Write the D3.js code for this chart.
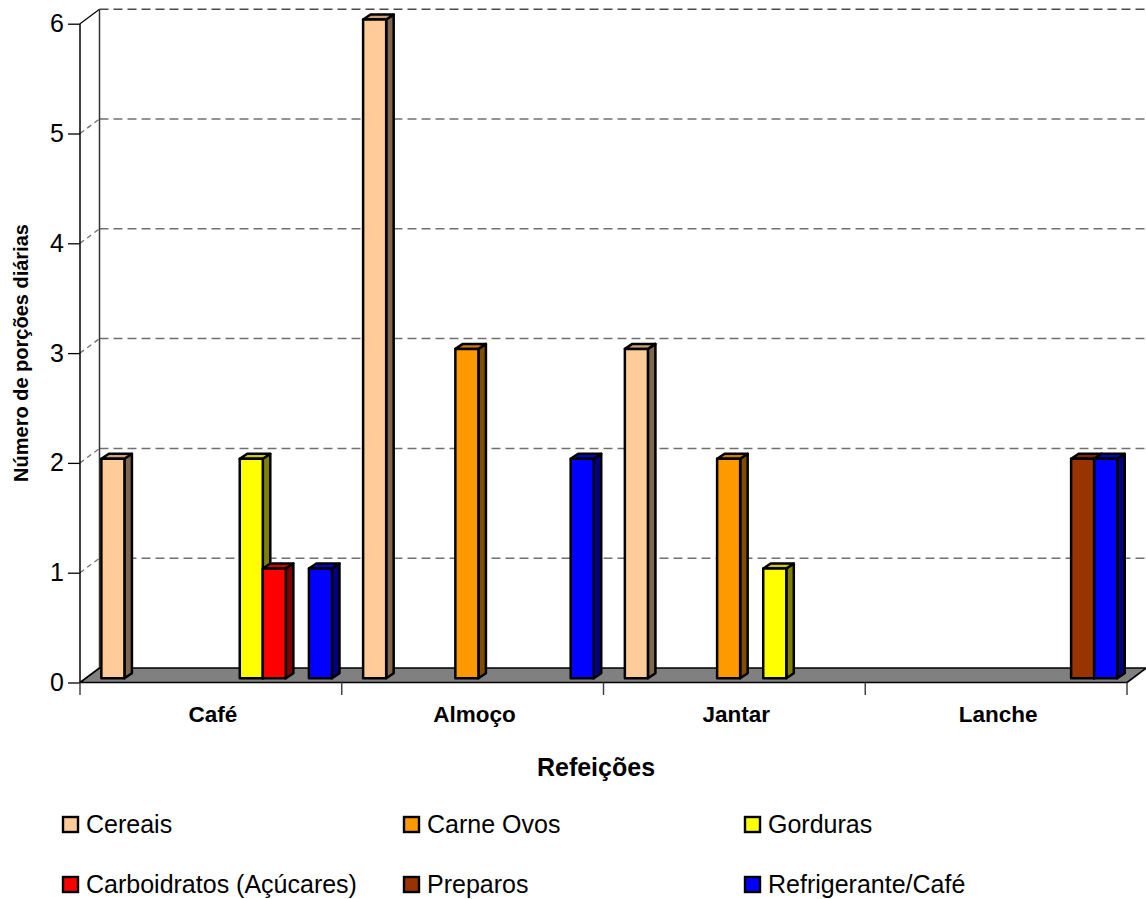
<!DOCTYPE html>
<html>
<head>
<meta charset="utf-8">
<script src="https://cdn.jsdelivr.net/npm/d3@7"></script>
<style>
  html, body { margin: 0; padding: 0; background: #fff; }
  svg { display: block; font-family: "Liberation Sans", Arial, sans-serif; }
</style>
</head>
<body>
<svg id="chart" width="1146" height="899"></svg>
<script>
// Meals on the category axis
const categories = ["Café", "Almoço", "Jantar", "Lanche"];

// Series in plotting order; the empty-named series have no values and no legend entry,
// but still hold their slot inside each meal group.
const seriesNames = ["Cereais", "", "", "", "Carne Ovos", "", "Gorduras",
                     "Carboidratos (Açúcares)", "Preparos", "Refrigerante/Café"];

// Portions per meal (null = no bar)
const cereais       = [2, 6, 3, null];
const vazio1        = [null, null, null, null];
const vazio2        = [null, null, null, null];
const vazio3        = [null, null, null, null];
const carneOvos     = [null, 3, 2, null];
const vazio4        = [null, null, null, null];
const gorduras      = [2, null, 1, null];
const carboidratos  = [1, null, null, null];
const preparos      = [null, null, null, 2];
const refrigerante  = [1, 2, null, 2];

const seriesValues = [cereais, vazio1, vazio2, vazio3, carneOvos, vazio4,
                      gorduras, carboidratos, preparos, refrigerante];

const seriesColors = ["#FFCC99", "#999999", "#999999", "#999999", "#FF9900", "#999999",
                      "#FFFF00", "#FF0000", "#993300", "#0000FF"];

const yTicks = [0, 1, 2, 3, 4, 5, 6];

// ---- layout ----
const svg = d3.select("#chart");
const W = 1146, H = 899;

const y = d3.scaleLinear().domain([0, 6]).range([682.5, 23.7]);
const x = d3.scaleBand().domain(categories).range([80, 1127]);
const slot = d3.scaleBand()
  .domain(d3.range(seriesNames.length))
  .range([0, x.bandwidth()])
  .paddingInner(0)
  .paddingOuter(0.675);

// oblique projection of the depth axis
const WALL_DX = 19.5, WALL_DY = -14.5;     // front edge -> back wall
const BAR_DX0 = 5.8,  BAR_DY0 = -4.2;      // front edge -> bar front faces
const BAR_DX  = 7.5,  BAR_DY  = -5;        // bar thickness in depth

function shade(hex, k) {
  const c = d3.rgb(hex);
  return d3.rgb(c.r * k, c.g * k, c.b * k).formatHex();
}

const gridColor = "#707070";
const xLeft = x.range()[0], xRight = x.range()[1];
const yBase = y(0);

// ---- walls & gridlines ----
const walls = svg.append("g");

// gridlines on the back wall and the left side wall
yTicks.filter(v => v > 0).forEach(v => {
  const yf = y(v), yb = y(v) + WALL_DY;
  walls.append("line")
    .attr("x1", xLeft + WALL_DX).attr("x2", W + 5)
    .attr("y1", yb).attr("y2", yb)
    .attr("stroke", v === 6 ? "#4a4a4a" : gridColor)
    .attr("stroke-width", 1.5)
    .attr("stroke-dasharray", "9,5");
  walls.append("line")
    .attr("x1", xLeft).attr("y1", yf)
    .attr("x2", xLeft + WALL_DX).attr("y2", yb)
    .attr("stroke", v === 6 ? "#000" : gridColor)
    .attr("stroke-width", v === 6 ? 1.2 : 1.3)
    .attr("stroke-dasharray", v === 6 ? null : "5,4");
});

// back-left vertical edge of the wall
walls.append("line")
  .attr("x1", xLeft + WALL_DX).attr("x2", xLeft + WALL_DX)
  .attr("y1", y(6) + WALL_DY).attr("y2", yBase + WALL_DY)
  .attr("stroke", "#333").attr("stroke-width", 1.5);

// floor
walls.append("polygon")
  .attr("points", [
    [xLeft, yBase], [xRight, yBase],
    [xRight + WALL_DX, yBase + WALL_DY], [xLeft + WALL_DX, yBase + WALL_DY]
  ].map(p => p.join(",")).join(" "))
  .attr("fill", "#808080")
  .attr("stroke", "#000")
  .attr("stroke-width", 1.6)
  .attr("stroke-linejoin", "round");

// ---- bars ----
const bars = [];
categories.forEach((cat, ci) => {
  seriesValues.forEach((vals, si) => {
    const v = vals[ci];
    if (v == null) return;
    bars.push({ cat, si, v });
  });
});

const barG = svg.append("g");
bars.sort((a, b) => (x(a.cat) + slot(a.si)) - (x(b.cat) + slot(b.si)));
bars.forEach(d => {
  const x0 = x(d.cat) + BAR_DX0 + slot(d.si);
  const x1 = x0 + slot.bandwidth();
  const yb = y(0) + BAR_DY0;
  const yt = y(d.v) + BAR_DY0;
  const col = seriesColors[d.si];
  const g = barG.append("g")
    .attr("stroke", "#000")
    .attr("stroke-width", 2.5)
    .attr("stroke-linejoin", "round");
  // side face
  g.append("polygon")
    .attr("points", [[x1, yt], [x1 + BAR_DX, yt + BAR_DY], [x1 + BAR_DX, yb + BAR_DY], [x1, yb]]
      .map(p => p.join(",")).join(" "))
    .attr("fill", shade(col, 0.5));
  // top face
  g.append("polygon")
    .attr("points", [[x0, yt], [x1, yt], [x1 + BAR_DX, yt + BAR_DY], [x0 + BAR_DX, yt + BAR_DY]]
      .map(p => p.join(",")).join(" "))
    .attr("fill", shade(col, 0.8));
  // front face
  g.append("rect")
    .attr("x", x0).attr("y", yt)
    .attr("width", x1 - x0).attr("height", yb - yt)
    .attr("fill", col);
});

// ---- axes ----
const yAxis = svg.append("g")
  .attr("transform", `translate(${xLeft},0)`)
  .call(d3.axisLeft(y).tickValues(yTicks).tickFormat(d3.format("d")).tickSize(12).tickPadding(4));
yAxis.select(".domain").attr("stroke", "#000").attr("stroke-width", 1.5)
  .attr("d", `M0,${y(6)}V${yBase}`);
yAxis.selectAll(".tick line").attr("stroke", "#000").attr("stroke-width", 1.3);
yAxis.selectAll(".tick text")
  .attr("font-size", 25).attr("fill", "#000")
  .attr("font-family", "'Liberation Sans', Arial, sans-serif");

// category axis along the front edge of the floor
const xAxisG = svg.append("g");
const boundaries = categories.map(c => x(c)).concat([xRight]);
xAxisG.selectAll("line.tick")
  .data(boundaries)
  .join("line")
  .attr("x1", d => d).attr("x2", d => d)
  .attr("y1", yBase).attr("y2", yBase + 12.5)
  .attr("stroke", "#444").attr("stroke-width", 1.5);
xAxisG.selectAll("text")
  .data(categories)
  .join("text")
  .attr("x", d => x(d) + x.bandwidth() / 2 + 2)
  .attr("y", 722)
  .attr("text-anchor", "middle")
  .attr("font-size", 22.5)
  .attr("font-weight", "bold")
  .text(d => d);

// axis titles
svg.append("text")
  .attr("x", 596).attr("y", 776)
  .attr("text-anchor", "middle")
  .attr("font-size", 25)
  .attr("font-weight", "bold")
  .text("Refeições");

svg.append("text")
  .attr("transform", "translate(28,353) rotate(-90)")
  .attr("text-anchor", "middle")
  .attr("font-size", 20)
  .attr("font-weight", "bold")
  .text("Número de porções diárias");

// ---- legend ----
const legendItems = seriesNames
  .map((name, i) => ({ name, color: seriesColors[i] }))
  .filter(d => d.name !== "");
const legendCols = [86, 427, 768];
const legendRows = [833, 893];
const legend = svg.append("g");
legendItems.forEach((d, i) => {
  const tx = legendCols[i % 3], ty = legendRows[Math.floor(i / 3)];
  legend.append("rect")
    .attr("x", tx - 23).attr("y", ty - 16)
    .attr("width", 15).attr("height", 15)
    .attr("fill", d.color)
    .attr("stroke", "#000").attr("stroke-width", 2.4);
  legend.append("text")
    .attr("x", tx).attr("y", ty)
    .attr("font-size", 25)
    .text(d.name);
});
</script>
</body>
</html>
